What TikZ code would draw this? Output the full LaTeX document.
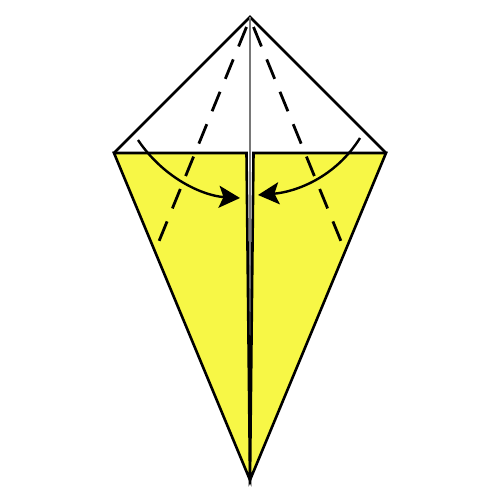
\documentclass[tikz,border=0pt]{standalone}
\usetikzlibrary{arrows.meta}
\definecolor{flapyellow}{RGB}{247,247,70}
\definecolor{midgray}{RGB}{120,120,120}
\tikzset{
  outline/.style={line width=2.6pt, line join=miter, draw=black},
  flap/.style={outline, fill=flapyellow},
  foldline/.style={line width=2.8pt, dash pattern=on 21pt off 14pt},
  foldarrow/.style={line width=2.4pt, -{Stealth[length=21pt,width=22pt,inset=4.5pt]}}
}
\begin{document}
\begin{tikzpicture}[x=1pt,y=-1pt]
\useasboundingbox (0,0) rectangle (500,500);
\coordinate (T) at (250,17);
\coordinate (L) at (114,153);
\coordinate (R) at (386,153);
\coordinate (B) at (250,480);
\coordinate (LI) at (246.5,153);
\coordinate (RI) at (253.5,153);
% top triangle
\draw[outline] (L) -- (T) -- (R);
% center line
\draw[midgray, line width=1.6pt] (T) -- (B);
% flaps
\draw[flap] (L) -- (LI) -- (B) -- cycle;
\draw[flap] (RI) -- (R) -- (B) -- cycle;
% dashed fold lines
\coordinate (DL1) at (246.5,27);
\coordinate (DL2) at (155,251);
\coordinate (DR1) at (253.5,27);
\coordinate (DR2) at (345,251);
\draw[foldline] (DL1) -- (DL2);
\draw[foldline] (DR1) -- (DR2);
% arrows
\coordinate (AL1) at (138,140);
\coordinate (AL2) at (240,198);
\coordinate (AR1) at (360,138);
\coordinate (AR2) at (258,195);
\draw[foldarrow] (AL1) .. controls (165,180) and (205,196) .. (AL2);
\draw[foldarrow] (AR1) .. controls (335,178) and (295,192) .. (AR2);
\end{tikzpicture}
\end{document}
